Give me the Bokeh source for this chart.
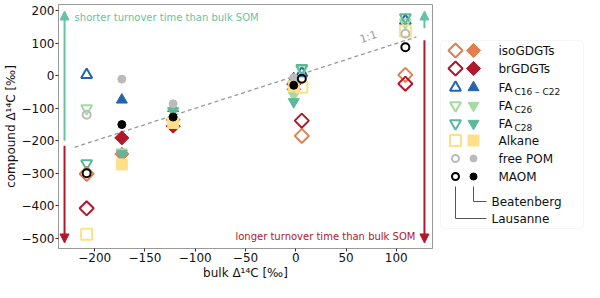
import numpy as np
from bokeh.plotting import figure
from bokeh.models import Range1d, Arrow, NormalHead, BoxAnnotation, Label, ColumnDataSource
from bokeh.layouts import row
from bokeh.embed import file_html
from bokeh.resources import INLINE
from bokeh.core.properties import value

# ---------------- data ----------------
bulk_lausanne = [-208, 6, 109]
bulk_beatenberg = [-173, -122, -2]

series_names = ["isoGDGTs", "brGDGTs", "FA C16-22", "FA C26", "FA C28", "Alkane", "free POM", "MAOM"]

iso_lausanne = [-302, -185, 3]
iso_beatenberg = [-241, -135, -41]
br_lausanne = [-408, -138, -24]
br_beatenberg = [-191, -155, -25]
fa1622_lausanne = [3, 9, 170]
fa1622_beatenberg = [-74, -100, -8]
fa26_lausanne = [-100, 20, 165]
fa26_beatenberg = [-235, -110, -60]
fa28_lausanne = [-270, 24, 180]
fa28_beatenberg = [-240, -108, -80]
alkane_lausanne = [-488, -35, 138]
alkane_beatenberg = [-273, -145, -32]
pom_lausanne = [-120, -8, 130]
pom_beatenberg = [-10, -86, -6]
maom_lausanne = [-300, -9, 88]
maom_beatenberg = [-150, -127, -29]

one_to_one = [-220, 120]

x_ticks = [-200, -150, -100, -50, 0, 50, 100]
y_ticks = [-500, -400, -300, -200, -100, 0, 100, 200]

lausanne_vals = [iso_lausanne, br_lausanne, fa1622_lausanne, fa26_lausanne,
                 fa28_lausanne, alkane_lausanne, pom_lausanne, maom_lausanne]
beatenberg_vals = [iso_beatenberg, br_beatenberg, fa1622_beatenberg, fa26_beatenberg,
                   fa28_beatenberg, alkane_beatenberg, pom_beatenberg, maom_beatenberg]

# ---------------- styles ----------------
colors = ["#e0804f", "#b2182b", "#2166ac", "#a6dba0", "#5cb89c", "#fee08b", "#bbbbbb", "#000000"]
markers = ["square", "square", "triangle", "inverted_triangle", "inverted_triangle", "square", "circle", "circle"]
angles = [np.pi / 4, np.pi / 4, 0, 0, 0, 0, 0, 0]
sizes = [10, 10, 11, 11, 11, 11, 8, 8]

FONT = "DejaVu Sans"
TEAL = "#66c2a5"
RED = "#b2182b"

# ---------------- main figure ----------------
p = figure(width=434, height=282, output_backend="svg", toolbar_location=None,
           x_range=Range1d(-236, 136), y_range=Range1d(-532, 220),
           min_border_left=56, min_border_right=2, min_border_top=4, min_border_bottom=20)
p.grid.visible = False
p.outline_line_color = "#999999"
p.outline_line_width = 1

for ax in (p.xaxis[0], p.yaxis[0]):
    ax.axis_line_color = "#999999"
    ax.major_tick_line_color = "#333333"
    ax.major_tick_in = 0
    ax.major_tick_out = 3
    ax.minor_tick_line_color = None
    ax.major_label_text_font = FONT
    ax.major_label_text_font_size = "12px"
    ax.major_label_text_color = "#111111"
    ax.axis_label_text_font = FONT
    ax.axis_label_text_font_size = "12px"
    ax.axis_label_text_font_style = "normal"
    ax.axis_label_text_color = "#111111"
    ax.major_label_standoff = 1
    ax.axis_label_standoff = 1
p.xaxis.ticker = x_ticks
p.yaxis.ticker = y_ticks
p.xaxis.axis_label = "bulk \u0394\u00b9\u2074C [\u2030]"
p.yaxis.axis_label = "compound \u0394\u00b9\u2074C [\u2030]"

# 1:1 line
p.line(one_to_one, one_to_one, line_color="#999999", line_dash="4 3", line_width=1.3)
p.add_layout(Label(x=66, y=92, text="1:1", angle=19, angle_units="deg",
                   text_font=FONT, text_font_size="11px", text_color="#999999"))

# arrows
p.add_layout(Arrow(end=NormalHead(size=9, fill_color=TEAL, line_color=TEAL),
                   x_start=-230, y_start=-200, x_end=-230, y_end=200,
                   line_color=TEAL, line_width=2))
p.add_layout(Arrow(end=NormalHead(size=9, fill_color=RED, line_color=RED),
                   x_start=-230, y_start=-215, x_end=-230, y_end=-515,
                   line_color=RED, line_width=2))
p.add_layout(Arrow(end=NormalHead(size=9, fill_color=TEAL, line_color=TEAL),
                   x_start=128, y_start=147, x_end=128, y_end=200,
                   line_color=TEAL, line_width=2))
p.add_layout(Arrow(end=NormalHead(size=9, fill_color=RED, line_color=RED),
                   x_start=128, y_start=110, x_end=128, y_end=-515,
                   line_color=RED, line_width=2))
p.add_layout(Label(x=-220, y=180, text="shorter turnover time than bulk SOM",
                   text_font=FONT, text_font_size="10px", text_color=TEAL,
                   text_baseline="middle"))
p.add_layout(Label(x=119, y=-495, text="longer turnover time than bulk SOM",
                   text_font=FONT, text_font_size="10px", text_color=RED,
                   text_baseline="middle", text_align="right"))

# data points
for i in range(len(series_names)):
    src_l = ColumnDataSource(dict(x=bulk_lausanne, y=lausanne_vals[i]))
    src_b = ColumnDataSource(dict(x=bulk_beatenberg, y=beatenberg_vals[i]))
    p.scatter("x", "y", source=src_b, marker=markers[i], size=sizes[i], angle=angles[i],
              fill_color=colors[i], line_color=colors[i], line_width=1)
    p.scatter("x", "y", source=src_l, marker=markers[i], size=sizes[i], angle=angles[i],
              fill_color=None, line_color=colors[i], line_width=2)

# ---------------- legend figure ----------------
# (frames in a row share vertical borders with the main plot: frame spans page y 4..248)
LX0, LW, LH = 434, 150, 282
lg = figure(width=LW, height=LH, output_backend="svg", toolbar_location=None,
            x_range=Range1d(LX0, LX0 + LW), y_range=Range1d(248, 4),
            x_axis_location=None, y_axis_location=None,
            min_border=0, min_border_left=0, min_border_right=0,
            min_border_top=4, min_border_bottom=34)
lg.grid.visible = False
lg.outline_line_color = None

lg.add_layout(BoxAnnotation(left=440, right=583, top=40, bottom=228,
                            fill_color="white", fill_alpha=1, line_color="#dddddd",
                            line_width=1, border_radius=4, level="underlay"))

row_y = [50, 68, 87, 105, 123, 140, 158, 176]
leg_sizes = [10, 10, 11, 11, 11, 11, 7, 7]
for i in range(len(series_names)):
    lg.scatter([455], [row_y[i]], marker=markers[i], size=leg_sizes[i], angle=angles[i],
               fill_color=None, line_color=colors[i], line_width=2)
    lg.scatter([473], [row_y[i]], marker=markers[i], size=leg_sizes[i], angle=angles[i],
               fill_color=colors[i], line_color=colors[i], line_width=1)

main_labels = ["isoGDGTs", "brGDGTs", "FA", "FA", "FA", "Alkane", "free POM", "MAOM"]
sub_labels = ["C16 \u2013 C22", "C26", "C28"]
lg.text(x=[498] * 8, y=row_y, text=main_labels, text_font=value(FONT),
        text_font_size="12px", text_baseline="middle", text_color="#111111")
sub_y = [row_y[2] + 4, row_y[3] + 4, row_y[4] + 4]
lg.text(x=[514] * 3, y=sub_y, text=sub_labels, text_font=value(FONT),
        text_font_size="9px", text_baseline="middle", text_color="#111111")

# bracket lines for sites
lg.multi_line(xs=[[455, 455, 486], [473, 473, 486]], ys=[[186, 218, 218], [186, 201, 201]],
              line_color="#555555", line_width=1)
lg.text(x=[491, 491], y=[201, 218], text=["Beatenberg", "Lausanne"], text_font=value(FONT),
        text_font_size="12px", text_baseline="middle", text_color="#111111")

layout = row(p, lg, spacing=0)
open("out.html", "w").write(file_html(layout, INLINE))
